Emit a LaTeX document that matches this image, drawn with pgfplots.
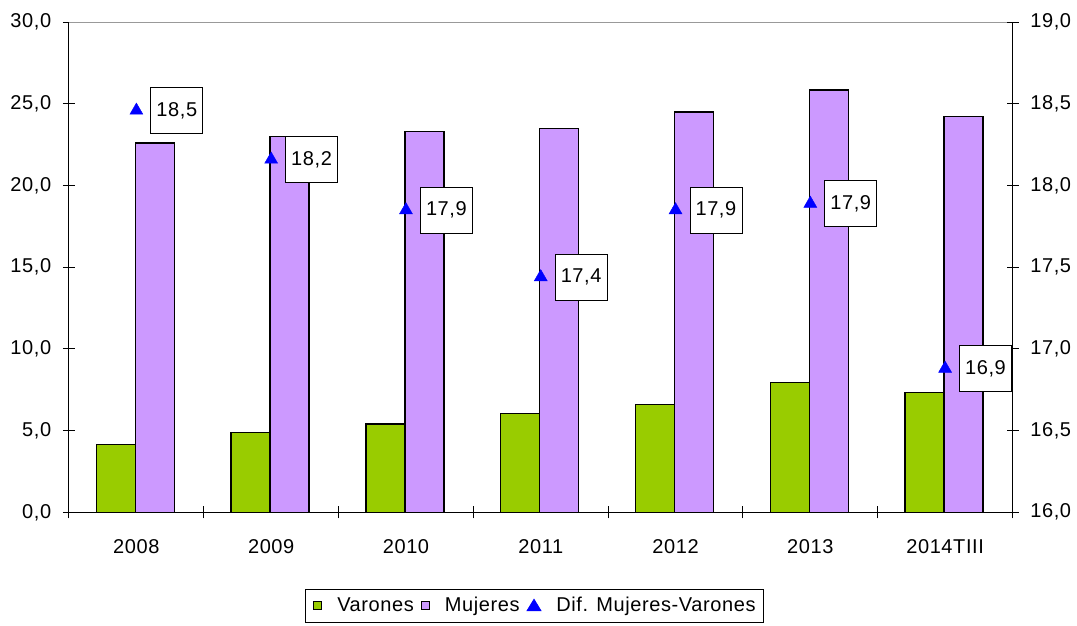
\documentclass[border=0pt]{standalone}
\usepackage{pgfplots}
\pgfplotsset{compat=1.18}
\usepackage{fontspec}
\setmainfont[LetterSpace=3]{Liberation Sans}
\definecolor{varon}{HTML}{99CC00}
\definecolor{mujer}{HTML}{CC99FF}
\pgfplotsset{/pgf/number format/assume math mode=true}
\begin{document}
\begin{tikzpicture}
\fontsize{20}{24}\selectfont
\path[use as bounding box] (0,0) rectangle (1077pt,626pt);
\begin{axis}[
  at={(69pt,113.7pt)}, anchor=south west,
  scale only axis, width=943.5pt, height=490pt,
  xmin=-0.5, xmax=6.5, ymin=0, ymax=30,
  axis x line*=bottom, axis y line*=left,
  axis line style={line width=1pt},
  xtick={0,...,6},
  xticklabels={2008,2009,2010,2011,2012,2013,2014TIII},
  major x tick style={draw=none},
  minor xtick={-0.5,0.5,...,6.5},
  ytick={0,5,...,30},
  tick align=center, major tick length=12pt, minor tick length=12pt,
  tick style={line width=1pt, black},
  xticklabel style={yshift=-14pt},
  yticklabel style={xshift=-5pt, /pgf/number format/.cd, fixed, fixed zerofill, precision=1, use comma},
  after end axis/.code={\draw[gray!80, line width=1pt] (rel axis cs:0,1) -- (rel axis cs:1,1);},
  legend style={draw=black, line width=0.8pt, at={(0.250,-0.1908)}, anchor=west,
    legend columns=3, inner xsep=8pt, inner ysep=6pt,
    nodes={inner xsep=0pt, inner ysep=2pt},
    /tikz/every odd column/.append style={column sep=15pt},
    /tikz/every even column/.append style={column sep=7pt}},
  legend cell align=left,
]
\addplot[ybar, bar width=39pt, bar shift=-20.5pt, fill=varon, draw=black, line width=1.4pt,
  legend image code/.code={\draw[fill=varon,draw=black,line width=1pt] (0pt,-4pt) rectangle (8pt,4pt);}]
  coordinates {(0,4.15)(1,4.9)(2,5.4)(3,6.05)(4,6.6)(5,7.95)(6,7.35)};
\addlegendentry{Varones}
\addplot[ybar, bar width=39pt, bar shift=18.5pt, fill=mujer, draw=black, line width=1.4pt,
  legend image code/.code={\draw[fill=mujer,draw=black,line width=1pt] (0pt,-4pt) rectangle (8pt,4pt);}]
  coordinates {(0,22.6)(1,23.0)(2,23.3)(3,23.5)(4,24.5)(5,25.85)(6,24.25)};
\addlegendentry{Mujeres}
\addlegendimage{legend image code/.code={\fill[blue] (0pt,-5pt) -- (14pt,-5pt) -- (7pt,6.5pt) -- cycle;}}
\addlegendentry{Dif. Mujeres-Varones}
\end{axis}
\begin{axis}[
  at={(69pt,113.7pt)}, anchor=south west,
  scale only axis, width=943.5pt, height=490pt,
  xmin=-0.5, xmax=6.5, ymin=16, ymax=19,
  axis y line*=right, axis x line=none,
  axis line style={line width=1pt},
  ytick={16,16.5,...,19},
  tick align=center, major tick length=12pt,
  tick style={line width=1pt, black},
  yticklabel style={xshift=5pt, /pgf/number format/.cd, fixed, fixed zerofill, precision=1, use comma},
]
\addplot[only marks, mark=triangle*, mark size=7.5pt, blue, point meta=explicit,
  nodes near coords={\pgfmathprintnumber[fixed,fixed zerofill,precision=1,use comma]{\pgfplotspointmeta}},
  every node near coord/.style={draw=black, fill=white, line width=0.8pt, text=black,
    anchor=west, xshift=14pt, minimum width=52pt, minimum height=46pt, inner sep=0pt}]
  table[x=x, y=y, meta=l] {
x y l
0 18.46 18.5
1 18.16 18.2
2 17.85 17.9
3 17.44 17.4
4 17.85 17.9
5 17.89 17.9
6 16.88 16.9
};
\end{axis}
\end{tikzpicture}
\end{document}
